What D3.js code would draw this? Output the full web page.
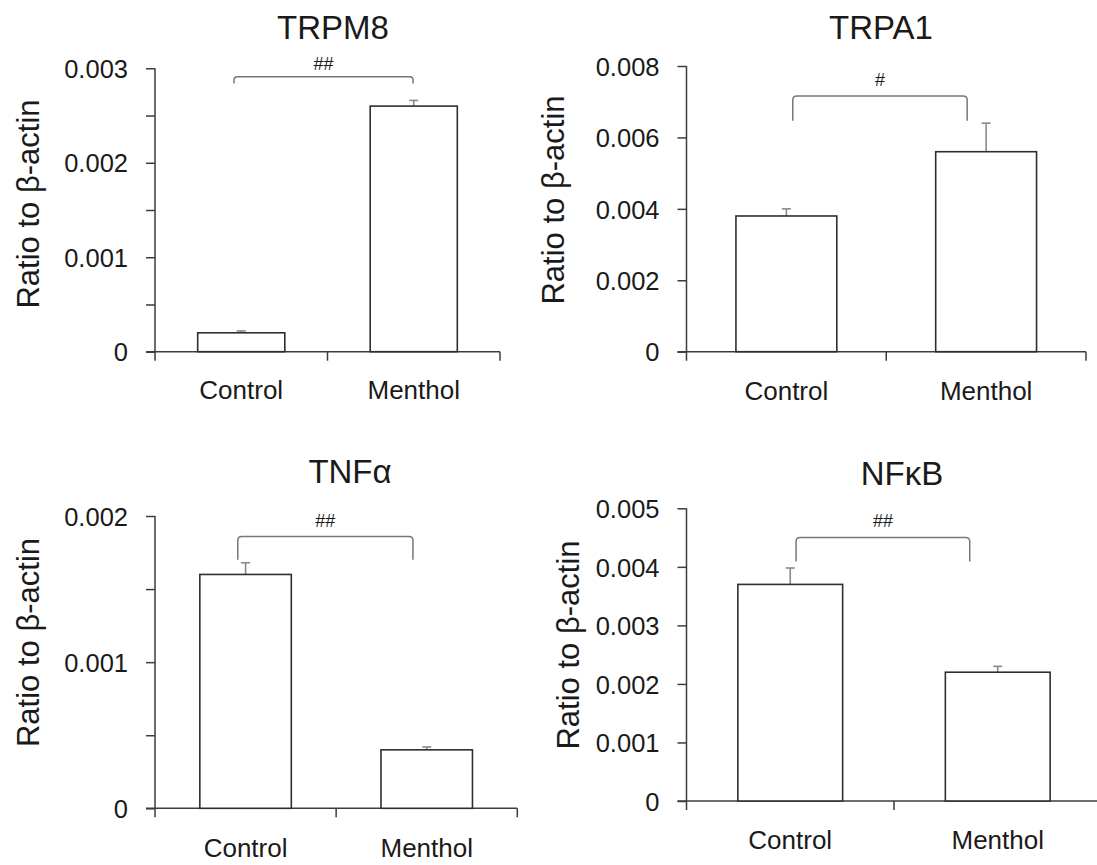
<!DOCTYPE html>
<html><head><meta charset="utf-8">
<script src="https://cdn.jsdelivr.net/npm/d3@7"></script>
<style>
html,body{margin:0;padding:0;background:#fff;}
text{font-family:"Liberation Sans",Arial,sans-serif;fill:#1a1a1a;}
</style></head>
<body><svg id="c" width="1097" height="865"></svg>
<script>
// ---- data ----
const categories = ["Control", "Menthol"];
const panelTitles = ["TRPM8", "TRPA1", "TNFα", "NFκB"];
const yLabel = "Ratio to β-actin";
const meansTRPM8 = [0.0002, 0.0026];
const errsTRPM8  = [0.00002, 0.00006];
const meansTRPA1 = [0.0038, 0.0056];
const errsTRPA1  = [0.0002, 0.0008];
const meansTNFa  = [0.0016, 0.0004];
const errsTNFa   = [0.00008, 0.00002];
const meansNFkB  = [0.0037, 0.0022];
const errsNFkB   = [0.00028, 0.0001];
const majorTicksTRPM8 = [0, 0.001, 0.002, 0.003];
const minorTicksTRPM8 = [0.0005, 0.0015, 0.0025];
const majorTicksTRPA1 = [0, 0.002, 0.004, 0.006, 0.008];
const majorTicksTNFa  = [0, 0.001, 0.002];
const minorTicksTNFa  = [0.0005, 0.0015];
const majorTicksNFkB  = [0, 0.001, 0.002, 0.003, 0.004, 0.005];
const sigLabels = ["##", "#", "##", "##"];
const sigLevels = [0.00291, 0.00716, 0.00186, 0.0045];   // bracket height (data units)
const sigDrops  = [0.00284, 0.00647, 0.0017, 0.00409];   // bracket end (data units)

// ---- layout (pixels) ----
const layout = [
  {x0:155, x1:500,   yTop:68.3, y0:351.7, titleX:333, titleY:38.5, ylX:38.5, ylY:204, xlY:399, brL:-0.042, brR:-0.004, sigOff:13},
  {x0:686.5, x1:1086, yTop:66, y0:351.7, titleX:881, titleY:39.3, ylX:564, ylY:200, xlY:400, brL:0.032, brR:-0.095, sigOff:16},
  {x0:155, x1:517.3, yTop:516, y0:808.3, titleX:350, titleY:483.3, ylX:38.5, ylY:642.5, xlY:857, brL:-0.043, brR:-0.076, sigOff:16},
  {x0:686.5, x1:1101.5, yTop:508.3, y0:801, titleX:902, titleY:485, ylX:579, ylY:645, xlY:849, brL:0.028, brR:-0.135, sigOff:17}
];
const panels = [
  {means:meansTRPM8, errs:errsTRPM8, major:majorTicksTRPM8, minor:minorTicksTRPM8},
  {means:meansTRPA1, errs:errsTRPA1, major:majorTicksTRPA1, minor:[]},
  {means:meansTNFa,  errs:errsTNFa,  major:majorTicksTNFa,  minor:minorTicksTNFa},
  {means:meansNFkB,  errs:errsNFkB,  major:majorTicksNFkB,  minor:[]}
];

const svg = d3.select("#c");
const axisColor = "#3c3c3c", barColor = "#2e2e2e", errColor = "#8a8a8a";
const fmt = d => d === 0 ? "0" : d3.format(".3f")(d);

panels.forEach((p, i) => {
  const L = layout[i];
  const g = svg.append("g");
  const yMax = d3.max(p.major);
  const y = d3.scaleLinear().domain([0, yMax]).range([L.y0, L.yTop]);
  const x = d3.scaleBand().domain(categories).range([L.x0, L.x1]).paddingInner(0).paddingOuter(0);
  const bw = x.bandwidth();
  const barW = bw * 0.505;
  const cx = c => x(c) + bw / 2;

  // title
  g.append("text").attr("x", L.titleX).attr("y", L.titleY).attr("text-anchor", "middle")
    .style("font-size", "33px").text(panelTitles[i]);

  // y axis ticks + labels
  const allTicks = p.major.concat(p.minor);
  const yAxis = d3.axisLeft(y).tickValues(allTicks).tickSize(9).tickPadding(18)
    .tickFormat(d => p.major.includes(d) ? fmt(d) : "");
  const ya = g.append("g").attr("transform", `translate(${L.x0},0)`).call(yAxis);
  ya.select(".domain").remove();
  ya.selectAll(".tick line").attr("stroke", axisColor).attr("stroke-width", 1.5);
  ya.selectAll(".tick text").style("font-size", "25.5px").attr("fill", "#1a1a1a").attr("dy", "0.36em");
  // y axis line (extends below zero)
  g.append("line").attr("x1", L.x0).attr("x2", L.x0).attr("y1", y(yMax)).attr("y2", L.y0 + 9)
    .attr("stroke", axisColor).attr("stroke-width", 1.5);
  // x axis line
  g.append("line").attr("x1", L.x0 - 9).attr("x2", L.x1).attr("y1", y(0)).attr("y2", y(0))
    .attr("stroke", axisColor).attr("stroke-width", 1.5);
  // x boundary ticks
  const bounds = categories.map(c => x(c)).concat([x(categories[categories.length - 1]) + bw]).slice(1);
  g.selectAll(".bt").data(bounds).enter().append("line")
    .attr("x1", d => d).attr("x2", d => d).attr("y1", y(0)).attr("y2", y(0) + 9)
    .attr("stroke", axisColor).attr("stroke-width", 1.5);
  // x labels
  g.selectAll(".xl").data(categories).enter().append("text")
    .attr("x", d => cx(d)).attr("y", L.xlY).attr("text-anchor", "middle")
    .style("font-size", "26px").text(d => d);

  // y label
  g.append("text").attr("transform", `translate(${L.ylX},${L.ylY}) rotate(-90)`)
    .attr("text-anchor", "middle").style("font-size", "31px").text(yLabel);

  // error bars
  categories.forEach((c, k) => {
    const top = y(p.means[k] + p.errs[k]);
    g.append("line").attr("x1", cx(c)).attr("x2", cx(c)).attr("y1", y(p.means[k])).attr("y2", top)
      .attr("stroke", errColor).attr("stroke-width", 1.6);
    g.append("line").attr("x1", cx(c) - 4.5).attr("x2", cx(c) + 4.5).attr("y1", top).attr("y2", top)
      .attr("stroke", errColor).attr("stroke-width", 1.6);
  });
  // bars
  g.selectAll(".bar").data(categories).enter().append("rect")
    .attr("x", d => cx(d) - barW / 2).attr("width", barW)
    .attr("y", (d, k) => y(p.means[k])).attr("height", (d, k) => y(0) - y(p.means[k]))
    .attr("fill", "#fff").attr("stroke", barColor).attr("stroke-width", 1.6);

  // significance bracket
  const bl = cx(categories[0]) + L.brL * bw, br = cx(categories[1]) + L.brR * bw;
  const by = y(sigLevels[i]), bb = y(sigDrops[i]);
  const r = Math.min(4, (bb - by) / 2);
  const path = d3.path();
  path.moveTo(bl, bb); path.lineTo(bl, by + r); path.quadraticCurveTo(bl, by, bl + r, by);
  path.lineTo(br - r, by); path.quadraticCurveTo(br, by, br, by + r); path.lineTo(br, bb);
  g.append("path").attr("d", path.toString()).attr("fill", "none").attr("stroke", "#777").attr("stroke-width", 1.5);
  g.append("text").attr("x", (bl + br) / 2).attr("y", by - L.sigOff).attr("dy", "0.36em")
    .attr("text-anchor", "middle").style("font-size", "18px").attr("fill", "#333").text(sigLabels[i]);
});
</script></body></html>
